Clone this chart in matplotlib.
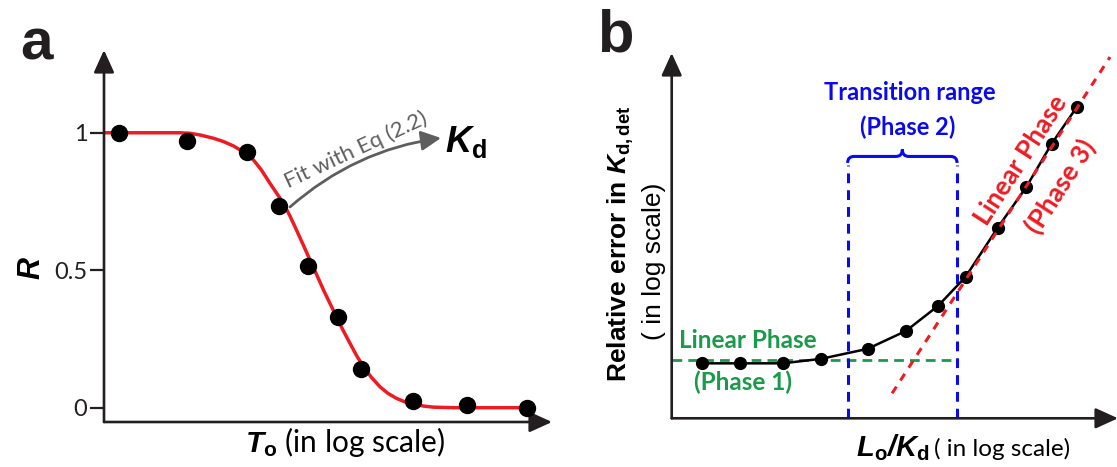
import numpy as np
import matplotlib
matplotlib.use('Agg')
import matplotlib.pyplot as plt
from matplotlib.path import Path
import matplotlib.patches as mpatches

plt.rcParams['mathtext.fontset'] = 'custom'
plt.rcParams['mathtext.rm'] = 'Liberation Sans'
plt.rcParams['mathtext.it'] = 'Liberation Sans:italic'
plt.rcParams['mathtext.bf'] = 'Liberation Sans:bold'
plt.rcParams['mathtext.bfit'] = 'Liberation Sans:italic:bold'

# ---------------------------------------------------------------------------
# Data (log-scale axis units)
# ---------------------------------------------------------------------------

# panel a: titration points and the Eq (2.2) fit
t0_points = [0.29, 1.65, 2.85, 3.49, 4.07, 4.67, 5.14, 6.17, 7.25, 8.45]
r_points = [1.0, 0.969, 0.929, 0.735, 0.516, 0.331, 0.140, 0.025, 0.010, 0.0]

t0_fit = [0.0, 0.92, 1.52, 1.72, 1.92, 2.19, 2.39, 2.59, 2.79, 2.99, 3.15, 3.32,
          3.45, 3.59, 3.72, 3.85, 4.00, 4.15, 4.27, 4.39, 4.52, 4.65, 4.78,
          4.92, 5.05, 5.19, 5.35, 5.52, 5.68, 5.85, 6.02, 6.19, 6.39, 6.59,
          7.0, 7.52, 8.6]
r_fit = [1.0, 1.0, 1.0, 0.998, 0.992, 0.980, 0.968, 0.952, 0.930, 0.901, 0.864,
         0.816, 0.781, 0.743, 0.697, 0.646, 0.586, 0.525, 0.477, 0.428, 0.379,
         0.331, 0.282, 0.234, 0.190, 0.149, 0.110, 0.076, 0.052, 0.034, 0.021,
         0.013, 0.006, 0.002, 0.0, 0.0, 0.0]
r_ticks = [0, 0.5, 1]
r_ticklabels = ['0', '0.5', '1']

# panel b: relative error vs L0/Kd
lk_points = [0.60, 1.37, 2.22, 2.99, 3.92, 4.69, 5.33, 5.88, 6.52, 7.09, 7.60, 8.10]
err_points = [1.10, 1.10, 1.10, 1.19, 1.39, 1.75, 2.25, 2.83, 3.81, 4.62, 5.49, 6.22]

phase1_level = 1.17
phase1_end = 5.63
transition_range = [3.52, 5.71]
transition_top = 5.07
phase3_line_x = [4.41, 8.77]
phase3_line_y = [0.50, 7.23]

# ---------------------------------------------------------------------------
# Figure / helpers
# ---------------------------------------------------------------------------

W, H = 1117, 467
fig = plt.figure(figsize=(W / 100, H / 100), dpi=100)

AX_COL = '#231f20'
RED = '#ed1c24'
BLUE = '#0a0aeb'
GREEN = '#1b9a4b'
GRAY = '#5e5e5e'


def px_box(left, top, right, bottom):
    return [left / W, 1 - bottom / H, (right - left) / W, (bottom - top) / H]


def ftext(x, y, s, **kw):
    return fig.text(x / W, 1 - y / H, s, **kw)


def arrow_axes(ax):
    for sp in ax.spines.values():
        sp.set_visible(False)
    style = '-|>,head_length=0.55,head_width=0.25'
    for end in [(0, 1.0), (1.0, 0)]:
        ax.annotate('', xy=end, xytext=(0, 0), xycoords='axes fraction',
                    arrowprops=dict(arrowstyle=style, color=AX_COL, lw=1.9,
                                    mutation_scale=25, shrinkA=0, shrinkB=0),
                    annotation_clip=False)


# ---------------------------------------------------------------------------
# Panel a
# ---------------------------------------------------------------------------

ax1 = fig.add_axes(px_box(104, 50, 552, 422))
ax1.set_xlim(0, 8.96)
ax1.set_ylim(-0.052, 1.301)
arrow_axes(ax1)

ax1.plot(t0_fit, r_fit, color=RED, lw=2.5, solid_capstyle='butt', zorder=2)
ax1.plot(t0_points, r_points, 'o', color='black', ms=11.5, zorder=3)

ax1.set_xticks([])
ax1.set_yticks(r_ticks)
ax1.set_yticklabels(r_ticklabels, family='Lato', fontsize=17, color=AX_COL)
ax1.tick_params(axis='y', length=10, width=1.6, color=AX_COL, pad=2)

ax1.annotate('', xy=(441, H - 138), xytext=(290, H - 207),
             xycoords='figure pixels', textcoords='figure pixels',
             arrowprops=dict(arrowstyle='-|>,head_length=0.6,head_width=0.3',
                             color=GRAY, lw=2.0, mutation_scale=20,
                             shrinkA=0, shrinkB=0,
                             connectionstyle='arc3,rad=-0.15'))
ftext(356, 150, 'Fit with Eq (2.2)', rotation=25, color=GRAY, family='Lato',
      fontsize=16, ha='center', va='center', rotation_mode='anchor')
ftext(445, 152, r'$\mathbfit{K}_{\mathbf{d}}$', fontsize=26, ha='left',
      va='baseline', color='black')

ftext(20, 60, 'a', fontsize=42, fontweight='bold', family='Liberation Sans',
      ha='left', va='baseline', color=AX_COL)
ftext(31, 268, r'$\mathbfit{R}$', fontsize=22, rotation=90, ha='center',
      va='center', color='black')
ftext(345, 452, r'$\mathbfit{T}_{\mathbf{o}}$ (in log scale)', family='Lato',
      fontsize=21.5, ha='center', va='baseline', color='black')

# ---------------------------------------------------------------------------
# Panel b
# ---------------------------------------------------------------------------

ax2 = fig.add_axes(px_box(671.7, 53, 1118, 418.3))
ax2.set_xlim(0, 8.93)
ax2.set_ylim(0, 7.31)
arrow_axes(ax2)
ax2.set_xticks([])
ax2.set_yticks([])

# linear phase (phase 1) level
ax2.plot([0, phase1_end], [phase1_level, phase1_level], color=GREEN, lw=2,
         ls=(0, (3.5, 2.2)), zorder=1)
# transition range (phase 2)
for xv in transition_range:
    ax2.plot([xv, xv], [0, transition_top], color=BLUE, lw=2.2,
             ls=(0, (3.2, 2.3)), zorder=2)
# curly bracket over transition range
xl, xr = transition_range
xm = (xl + xr) / 2
y0, y1, y2, r = transition_top + 0.04, transition_top + 0.17, transition_top + 0.31, 0.13
verts = [(xl, y0), (xl, y1), (xl + r, y1), (xm - r, y1), (xm, y1), (xm, y2),
         (xm, y1), (xm + r, y1), (xr - r, y1), (xr, y1), (xr, y0)]
codes = [Path.MOVETO, Path.CURVE3, Path.CURVE3, Path.LINETO, Path.CURVE3,
         Path.CURVE3, Path.CURVE3, Path.CURVE3, Path.LINETO, Path.CURVE3,
         Path.CURVE3]
ax2.add_patch(mpatches.PathPatch(Path(verts, codes), fill=False, color=BLUE,
                                 lw=2.2, clip_on=False))

ax2.plot(lk_points, err_points, '-o', color='black', lw=1.8, ms=8.5, zorder=3)
# linear phase (phase 3) asymptote
ax2.plot(phase3_line_x, phase3_line_y, color=RED, lw=2.2, ls=(0, (2.6, 2.4)),
         zorder=4, clip_on=False)

ftext(910, 93, 'Transition range', color=BLUE, family='Lato',
      fontweight='bold', fontsize=17, ha='center', va='center')
ftext(908, 127, '(Phase 2)', color=BLUE, family='Lato', fontweight='bold',
      fontsize=17, ha='center', va='center')
ftext(748, 340, 'Linear Phase', color=GREEN, family='Lato', fontweight='bold',
      fontsize=17.5, ha='center', va='center')
ftext(743, 382, '(Phase 1)', color=GREEN, family='Lato', fontweight='bold',
      fontsize=17.5, ha='center', va='center')
ftext(1021, 160, 'Linear Phase', color=RED, family='Lato', fontweight='bold',
      fontsize=19, rotation=57, ha='center', va='center')
ftext(1060, 186, '(Phase 3)', color=RED, family='Lato', fontweight='bold',
      fontsize=19, rotation=57, ha='center', va='center')

ftext(597, 52, 'b', fontsize=43, fontweight='bold', family='Liberation Sans',
      ha='left', va='baseline', color=AX_COL)
ftext(621, 244, r'Relative error in $\mathbfit{K}_{\mathbf{d,det}}$',
      rotation=90, fontweight='bold', family='Liberation Sans', fontsize=19,
      ha='center', va='center', color='black')
ftext(654, 261, '( in log scale)', rotation=90, family='Liberation Sans',
      fontsize=19, ha='center', va='center', color='black')
ftext(930, 456, r'$\mathbfit{L}_{\mathbf{o}}\mathbfit{/K}_{\mathbf{d}}$',
      fontsize=21, ha='right', va='baseline', color='black')
ftext(934, 456, '( in log scale)', family='Lato', fontsize=17.5, ha='left',
      va='baseline', color='black')

fig.savefig('out.png', dpi=100)
